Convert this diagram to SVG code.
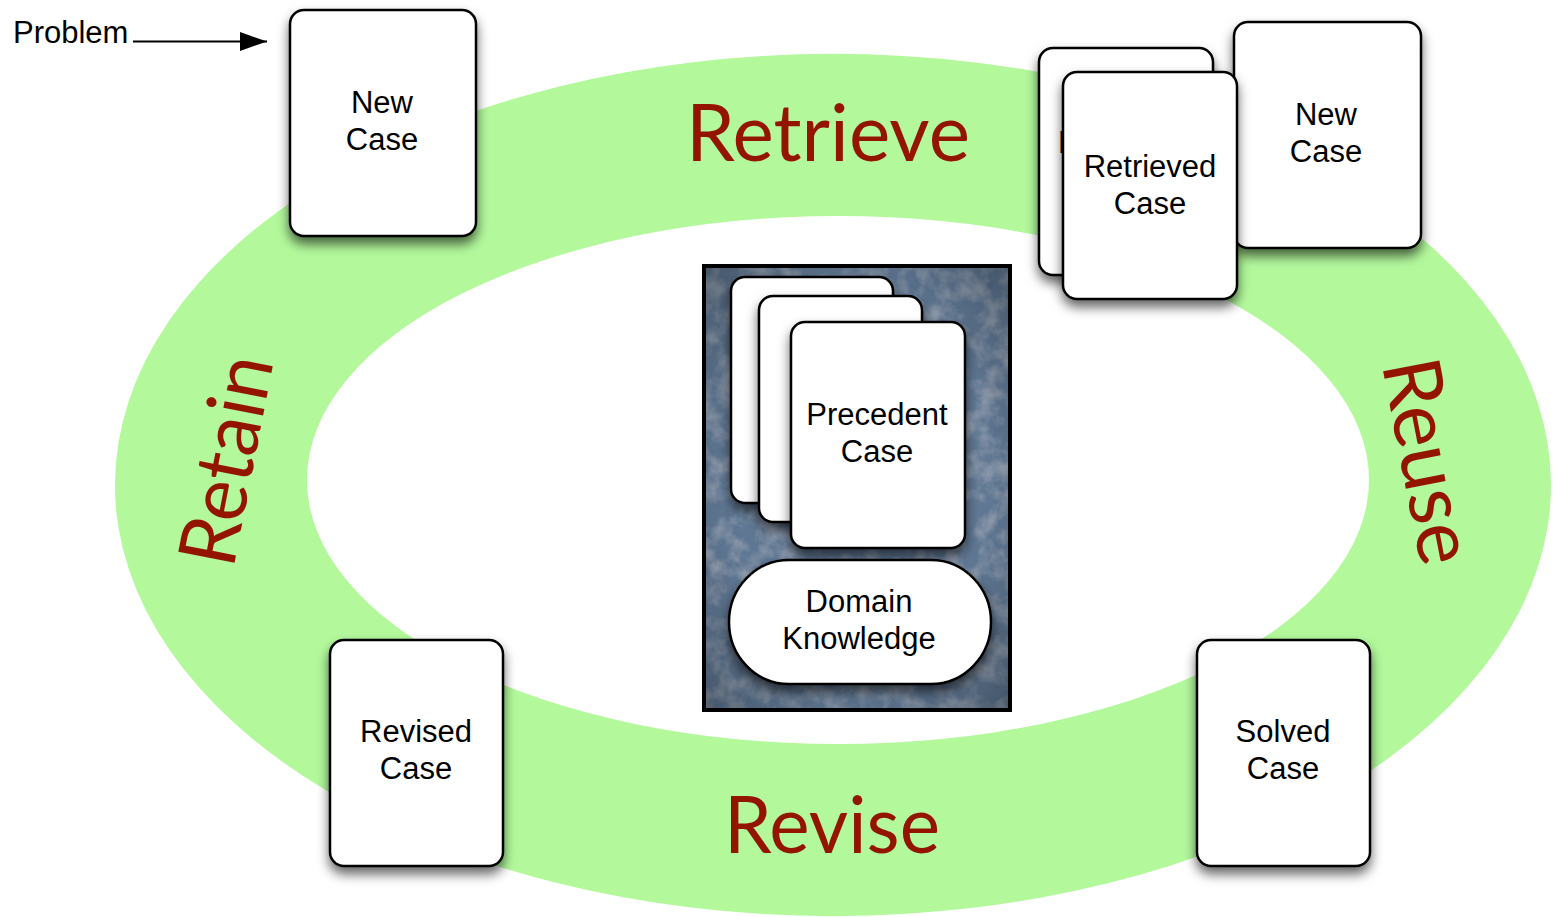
<svg xmlns="http://www.w3.org/2000/svg" width="1553" height="917" viewBox="0 0 1553 917">
<defs>
<style>
.card{fill:#ffffff;stroke:#000000;stroke-width:2.5;filter:url(#shadow)}
.ct{font-family:"Liberation Sans",Arial,sans-serif;font-size:31px;fill:#000000;text-anchor:middle}
.phase{font-family:Lato,"Open Sans",sans-serif;font-size:80px;fill:#931500;text-anchor:middle}
</style>
<filter id="shadow" x="-30%" y="-30%" width="160%" height="160%">
<feDropShadow dx="0" dy="7" stdDeviation="6" flood-color="#000000" flood-opacity="0.6"/>
</filter>
<filter id="tex" x="0" y="0" width="100%" height="100%">
<feTurbulence type="fractalNoise" baseFrequency="0.05" numOctaves="4" seed="3" result="n"/>
<feColorMatrix in="n" type="matrix" values="0 0 0 0 1  0 0 0 0 1  0 0 0 0 1  0.45 0 0 0 -0.18" result="light"/>
<feColorMatrix in="n" type="matrix" values="0 0 0 0 0  0 0 0 0 0  0 0 0 0 0.05  0 -0.45 0 0 0.17" result="dark"/>
<feFlood flood-color="#5e7793" result="fl"/>
<feComposite in="light" in2="fl" operator="over" result="mix"/>
<feComposite in="dark" in2="mix" operator="over" result="mix2"/>
<feComposite in="mix2" in2="SourceGraphic" operator="in"/>
</filter>
<radialGradient id="vig" cx="50%" cy="50%" r="72%">
<stop offset="0.6" stop-color="#000000" stop-opacity="0"/>
<stop offset="1" stop-color="#000000" stop-opacity="0.3"/>
</radialGradient>
<clipPath id="backclip"><rect x="1040" y="48" width="23" height="227"/></clipPath>
<marker id="arrow" markerWidth="27" markerHeight="19" refX="27" refY="9.5" orient="auto" markerUnits="userSpaceOnUse">
<path d="M0,0 L27,9.5 L0,19 Z" fill="#000000"/>
</marker>
</defs>
<rect width="1553" height="917" fill="#ffffff"/>

<g id="ring">
<path fill="#b3f99c" fill-rule="evenodd" d="M115,485 A718,431 0 1,0 1551,485 A718,431 0 1,0 115,485 Z M307,480 A531,264 0 1,1 1369,480 A531,264 0 1,1 307,480 Z"/>
</g>

<g id="labels">
<text class="phase" x="828" y="161" textLength="284" lengthAdjust="spacingAndGlyphs">Retrieve</text>
<text class="phase" x="832" y="853" textLength="216" lengthAdjust="spacingAndGlyphs">Revise</text>
<text class="phase" transform="translate(226,460) rotate(-79)" x="0" y="28" textLength="212" lengthAdjust="spacingAndGlyphs">Retain</text>
<text class="phase" transform="translate(1429,461) rotate(79)" x="0" y="28" textLength="208" lengthAdjust="spacingAndGlyphs">Reuse</text>
</g>

<g id="problem">
<text class="ct" x="13" y="43" style="text-anchor:start">Problem</text>
</g>

<g id="connectors">
<line x1="133" y1="41.5" x2="267" y2="41.5" stroke="#000000" stroke-width="2" marker-end="url(#arrow)"/>
</g>

<g id="new-case-1">
<rect class="card" x="290" y="10" width="186" height="226" rx="14"/>
<text class="ct" x="382" y="113">New</text>
<text class="ct" x="382" y="150">Case</text>
</g>

<g id="retrieved-case-back">
<rect class="card" x="1039" y="48" width="174" height="227" rx="14"/>
<text class="ct" x="1058" y="153" style="text-anchor:start" clip-path="url(#backclip)">R</text>
</g>

<g id="new-case-2">
<rect class="card" x="1234" y="22" width="187" height="226" rx="14"/>
<text class="ct" x="1326" y="125">New</text>
<text class="ct" x="1326" y="162">Case</text>
</g>

<g id="retrieved-case">
<rect class="card" x="1063" y="72" width="174" height="227" rx="14"/>
<text class="ct" x="1150" y="177">Retrieved</text>
<text class="ct" x="1150" y="214">Case</text>
</g>

<g id="case-base">
<rect x="704" y="266" width="306" height="444" fill="#5e7793" filter="url(#tex)"/>
<rect x="704" y="266" width="306" height="444" fill="url(#vig)"/>
<rect x="704" y="266" width="306" height="444" fill="none" stroke="#000000" stroke-width="4"/>
</g>

<g id="precedent-back-1">
<rect class="card" x="731" y="277" width="162" height="226" rx="14"/>
</g>
<g id="precedent-back-2">
<rect class="card" x="759" y="296" width="163" height="226" rx="14"/>
</g>
<g id="precedent-case">
<rect class="card" x="791" y="322" width="174" height="226" rx="14"/>
<text class="ct" x="877" y="425">Precedent</text>
<text class="ct" x="877" y="462">Case</text>
</g>

<g id="domain-knowledge">
<rect class="card" x="729" y="560" width="262" height="124" rx="60" ry="62"/>
<text class="ct" x="859" y="612">Domain</text>
<text class="ct" x="859" y="649">Knowledge</text>
</g>

<g id="revised-case">
<rect class="card" x="330" y="640" width="173" height="226" rx="14"/>
<text class="ct" x="416" y="742">Revised</text>
<text class="ct" x="416" y="779">Case</text>
</g>

<g id="solved-case">
<rect class="card" x="1197" y="640" width="173" height="226" rx="14"/>
<text class="ct" x="1283" y="742">Solved</text>
<text class="ct" x="1283" y="779">Case</text>
</g>
</svg>
